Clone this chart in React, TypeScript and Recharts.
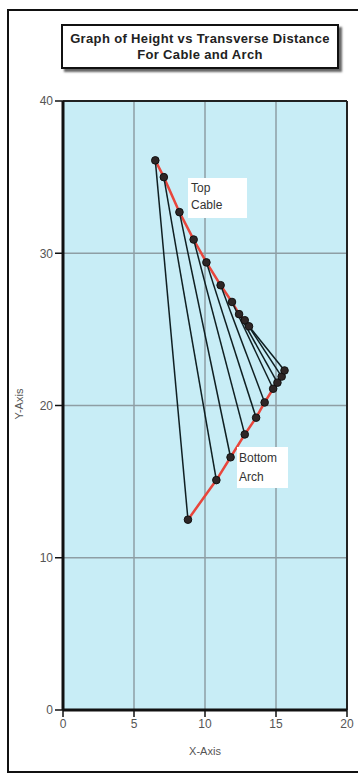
import React from "react";
import {
  ScatterChart,
  Scatter,
  XAxis,
  YAxis,
  CartesianGrid,
  ReferenceLine,
} from "recharts";

const topX = [6.5, 7.1, 8.2, 9.2, 10.1, 11.1, 11.9, 12.4, 12.8, 13.1];
const topY = [36.1, 35.0, 32.7, 30.9, 29.4, 27.9, 26.8, 26.0, 25.6, 25.2];
const bottomX = [8.8, 10.8, 11.8, 12.8, 13.6, 14.2, 14.8, 15.1, 15.4, 15.6];
const bottomY = [12.5, 15.1, 16.6, 18.1, 19.2, 20.2, 21.1, 21.5, 21.9, 22.3];
const xTicks = [0, 5, 10, 15, 20];
const yTicks = [0, 10, 20, 30, 40];

const topPts = topX.map((x, i) => ({ x, y: topY[i] }));
const bottomPts = bottomX.map((x, i) => ({ x, y: bottomY[i] }));
const topCable = topPts;
const bottomArch = [...bottomPts].reverse();
const links = topPts.map((t, i) => [t, bottomPts[i]]);

const Dot = (props: any) => {
  const { cx, cy } = props;
  if (cx == null || cy == null) return <g />;
  return <circle cx={cx} cy={cy} r={3.8} fill="#2e2626" stroke="#111" strokeWidth={1} />;
};
const NoDot = () => <g />;

const font = "'Liberation Sans', Arial, sans-serif";

export default function App() {
  return (
    <div style={{ position: "absolute", left: 0, top: 0, width: 358, height: 778, background: "#fff", overflow: "hidden" }}>
      <div
        style={{
          position: "absolute",
          left: 7,
          top: 9,
          width: 380,
          height: 760,
          border: "2px solid #111",
        }}
      />
      <ScatterChart
        width={358}
        height={778}
        margin={{ top: 101, right: 11, left: 23, bottom: 28 }}
        style={{ position: "absolute", left: 0, top: 0 }}
      >
        <CartesianGrid
          fill="#c8edf6"
          stroke="#8e9ea4"
          strokeWidth={1.5}
          strokeOpacity={1}
        />
        <XAxis
          type="number"
          dataKey="x"
          domain={[0, 20]}
          ticks={xTicks}
          interval={0}
          axisLine={{ stroke: "#111", strokeWidth: 3 }}
          tickLine={{ stroke: "#111", strokeWidth: 1.5 }}
          tickSize={7}
          tick={{ fill: "#555", fontSize: 12, fontFamily: font }}
          height={40}
        />
        <YAxis
          type="number"
          dataKey="y"
          domain={[0, 40]}
          ticks={yTicks}
          interval={0}
          axisLine={{ stroke: "#111", strokeWidth: 3 }}
          tickLine={{ stroke: "#111", strokeWidth: 1.5 }}
          tickSize={8}
          tick={{ fill: "#555", fontSize: 12, fontFamily: font }}
          width={40}
        />
        <ReferenceLine y={40} stroke="#222" strokeWidth={2} />
        <ReferenceLine x={20} stroke="#222" strokeWidth={2} />
        <Scatter
          data={topCable}
          line={{ stroke: "#e8463c", strokeWidth: 2.5 }}
          shape={NoDot}
          isAnimationActive={false}
        />
        <Scatter
          data={bottomArch}
          line={{ stroke: "#e8463c", strokeWidth: 2.5 }}
          shape={NoDot}
          isAnimationActive={false}
        />
        {links.map((seg, i) => (
          <Scatter
            key={"l" + i}
            data={seg}
            line={{ stroke: "#0f1f22", strokeWidth: 1.5 }}
            shape={NoDot}
            isAnimationActive={false}
          />
        ))}
        <Scatter data={topPts} shape={Dot} isAnimationActive={false} />
        <Scatter data={bottomPts} shape={Dot} isAnimationActive={false} />
      </ScatterChart>

      <div
        style={{
          position: "absolute",
          left: 61,
          top: 24,
          width: 278,
          height: 45,
          border: "2px solid #111",
          boxShadow: "3px 3px 2px #666",
          background: "#fff",
          fontFamily: font,
          fontWeight: "bold",
          fontSize: 13,
          color: "#222",
          textAlign: "center",
          lineHeight: "16px",
          paddingTop: 5,
          boxSizing: "border-box",
          letterSpacing: 0.35,
        }}
      >
        <div>Graph of Height vs Transverse Distance</div>
        <div>For Cable and Arch</div>
      </div>

      <div
        style={{
          position: "absolute",
          left: 188,
          top: 178,
          width: 59,
          height: 40,
          background: "#fff",
          fontFamily: font,
          fontSize: 12,
          color: "#333",
          lineHeight: "17px",
          paddingLeft: 3,
          paddingTop: 2,
          boxSizing: "border-box",
        }}
      >
        <div>Top</div>
        <div>Cable</div>
      </div>

      <div
        style={{
          position: "absolute",
          left: 237,
          top: 447,
          width: 51,
          height: 41,
          background: "#fff",
          fontFamily: font,
          fontSize: 12,
          color: "#333",
          lineHeight: "19px",
          paddingLeft: 2,
          paddingTop: 2,
          boxSizing: "border-box",
        }}
      >
        <div>Bottom</div>
        <div>Arch</div>
      </div>

      <div
        style={{
          position: "absolute",
          left: 170,
          top: 745,
          width: 70,
          textAlign: "center",
          fontFamily: font,
          fontSize: 11,
          color: "#555",
        }}
      >
        X-Axis
      </div>
      <div
        style={{
          position: "absolute",
          left: -16,
          top: 398,
          width: 70,
          textAlign: "center",
          fontFamily: font,
          fontSize: 11,
          color: "#555",
          transform: "rotate(-90deg)",
        }}
      >
        Y-Axis
      </div>
    </div>
  );
}
